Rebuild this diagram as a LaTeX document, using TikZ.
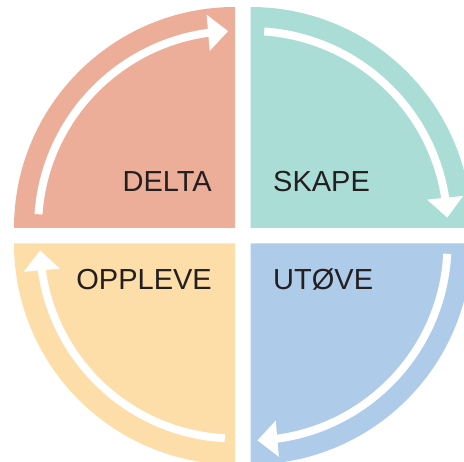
\documentclass[tikz,border=0pt]{standalone}
\usepackage{fontspec}
\setmainfont{Liberation Sans}
\usetikzlibrary{arrows.meta,bending}
\definecolor{deltacol}{HTML}{ECAE99}
\definecolor{skapecol}{HTML}{ABDDD7}
\definecolor{utovecol}{HTML}{AECBEA}
\definecolor{opplevecol}{HTML}{FDDDA8}
\definecolor{wordcol}{HTML}{231F20}
\begin{document}
\begin{tikzpicture}[x=1pt,y=1pt,
	flow/.style={white,line width=8pt,-{Triangle[length=20pt,width=35pt]}},
	word/.style={inner sep=0pt,text=wordcol,font=\fontsize{29}{29}\selectfont}]

	\useasboundingbox (0,0) rectangle (464,462);
	\clip (0,0) rectangle (464,462);

	\coordinate (tl) at (235,234);
	\coordinate (tr) at (250.5,234);
	\coordinate (br) at (250.5,218.5);
	\coordinate (bl) at (235,218.5);

	\fill[deltacol] (tl) -- ++(180:221) arc[start angle=180,end angle=90,radius=221] -- cycle;
	\fill[skapecol] (tr) -- ++(90:221) arc[start angle=90,end angle=0,radius=221] -- cycle;
	\fill[utovecol] (br) -- ++(0:221) arc[start angle=0,end angle=-90,radius=221] -- cycle;
	\fill[opplevecol] (bl) -- ++(-90:221) arc[start angle=-90,end angle=-180,radius=221] -- cycle;

	\draw[flow] ([shift={(176:197)}]tl) arc[start angle=176,end angle=92,radius=197];
	\draw[flow] ([shift={(86:197)}]tr) arc[start angle=86,end angle=3,radius=197];
	\draw[flow] ([shift={(-3:197)}]br) arc[start angle=-3,end angle=-88,radius=197];
	\draw[flow] ([shift={(-93:195)}]bl) arc[start angle=-93,end angle=-178,radius=195];

	\node[word,anchor=base east] (delta) at (212,270) {DELTA};
	\node[word,anchor=base west] (skape) at (273,270) {SKAPE};
	\node[word,anchor=base east] (oppleve) at (212,172) {OPPLEVE};
	\node[word,anchor=base west] (utove) at (273,172) {UTØVE};

\end{tikzpicture}
\end{document}
